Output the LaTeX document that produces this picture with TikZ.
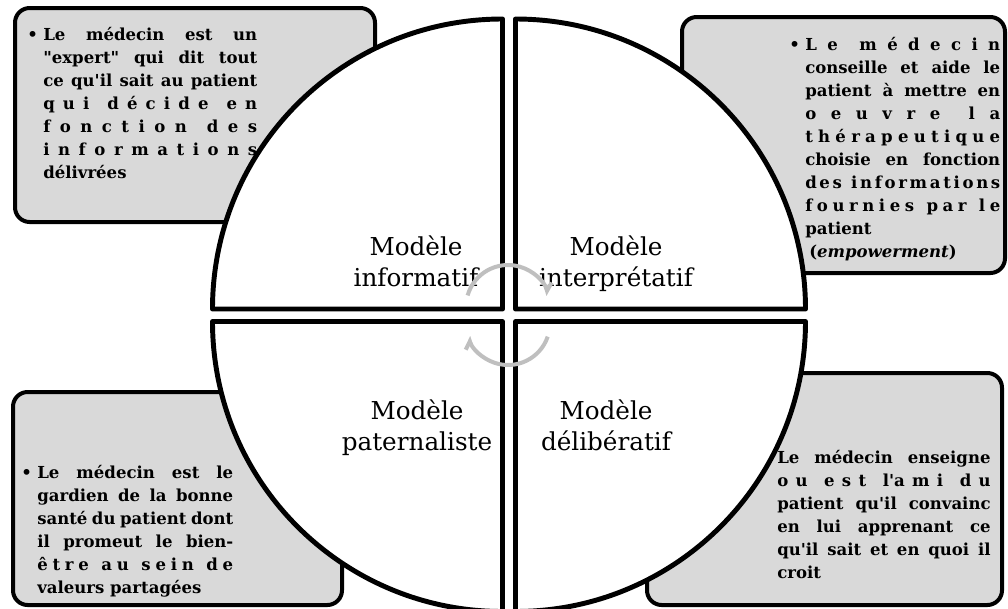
\documentclass[tikz,border=0pt]{standalone}
\usepackage{fontspec}
\setmainfont{DejaVu Serif}
\usepackage{tikz}
\usetikzlibrary{positioning}
\usetikzlibrary{arrows.meta}

\hyphenpenalty=10000
\newcommand{\ap}{\textquotesingle}
\newcommand{\gu}{\textquotedbl}
\newcommand{\puce}{\llap{•\hspace{4pt}}}

% lignes etirees lettre par lettre
\newXeTeXintercharclass\lettre
\count255=`A
\loop\XeTeXcharclass\count255=\lettre\ifnum\count255<`z\advance\count255 by 1\repeat
\XeTeXcharclass`é=\lettre
\XeTeXcharclass`ê=\lettre
\XeTeXcharclass`'=\lettre
\XeTeXinterchartoks\lettre\lettre={\hfil}
\newcommand{\etire}[1]{\makebox[\linewidth][s]{\XeTeXinterchartokenstate=1
  \spaceskip=0.3em plus 1.6fil\relax#1}}

\begin{document}
\begin{tikzpicture}[x=0.75pt,y=-0.75pt,
  quadrant/.style={draw=black,line width=3.7pt,fill=white,line join=round},
  infobox/.style={draw=black,line width=3pt,fill=black!15,rounded corners=11pt},
  infotext/.style={anchor=north west,inner sep=0pt,align=justify,
    font=\bfseries\fontsize{12.4}{17.25}\selectfont},
  modele/.style={anchor=north,inner sep=0pt,align=center,
    font=\fontsize{18.5}{23.25}\selectfont},
  cyclearrow/.style={draw=black!25,line width=3pt,-{Straight Barb[harpoon,length=5pt,width=10pt]}}]

\useasboundingbox (0,0) rectangle (1008,608);

\def\rad{290}

\coordinate (tl) at (502.5,309);
\coordinate (tr) at (515.5,309);
\coordinate (bl) at (502.5,321.5);
\coordinate (br) at (515.5,321.5);
\coordinate (up) at (508,307);
\coordinate (down) at (508,323);

\draw[infobox] (15,8) rectangle (375,222);
\draw[infobox] (682,17) rectangle (1005,273);
\draw[infobox] (13,392) rectangle (342,605);
\draw[infobox] (647,373) rectangle (1002,605);

\draw[quadrant] (tl) -- ++(-\rad,0) arc[start angle=180,end angle=270,radius=\rad] -- cycle;
\draw[quadrant] (tr) -- ++(0,-\rad) arc[start angle=270,end angle=360,radius=\rad] -- cycle;
\draw[quadrant] (bl) -- ++(-\rad,0) arc[start angle=180,end angle=90,radius=\rad] -- cycle;
\draw[quadrant] (br) -- ++(\rad,0) arc[start angle=0,end angle=90,radius=\rad] -- cycle;

\node[infotext,text width=160.5pt] (informatif) at (43,27)
  {\puce Le médecin est un\linebreak \gu expert\gu{} qui dit tout\linebreak
   ce qu\ap il sait au patient\linebreak \etire{qui décide en}\linebreak
   \etire{fonction des}\linebreak \etire{informations}\linebreak délivrées};
\node[infotext,text width=146.25pt] (interpretatif) at (805,37)
  {\puce\etire{Le médecin}\linebreak conseille et aide le\linebreak
   patient à mettre en\linebreak \etire{oeuvre la}\linebreak
   \etire{thérapeutique}\linebreak choisie en fonction\linebreak
   \etire{des informations}\linebreak \etire{fournies par le}\linebreak
   patient\\\hspace*{3pt}(\textit{empowerment})};
\node[infotext,text width=147pt] (paternaliste) at (37,465)
  {\puce Le médecin est le\linebreak gardien de la bonne\linebreak
   santé du patient dont\linebreak il promeut le bien-\linebreak
   \etire{être au sein de}\linebreak valeurs partagées};
\node[infotext,text width=160pt] (deliberatif) at (777,450)
  {Le médecin enseigne\linebreak \etire{ou est l\ap ami du}\linebreak
   patient qu\ap il convainc\linebreak en lui apprenant ce\linebreak
   qu\ap il sait et en quoi il\linebreak croit};

\node[modele] (m1) at (416,236) {Modèle\\informatif};
\node[modele] (m2) at (616,236) {Modèle\\interprétatif};
\node[modele] (m3) at (417,400) {Modèle\\paternaliste};
\node[modele] (m4) at (606,400) {Modèle\\délibératif};

\draw[cyclearrow] (up) ++(-164:42) arc[start angle=-164,end angle=-16,radius=42];
\draw[cyclearrow] (down) ++(19:42) arc[start angle=19,end angle=161,radius=42];
\end{tikzpicture}
\end{document}
